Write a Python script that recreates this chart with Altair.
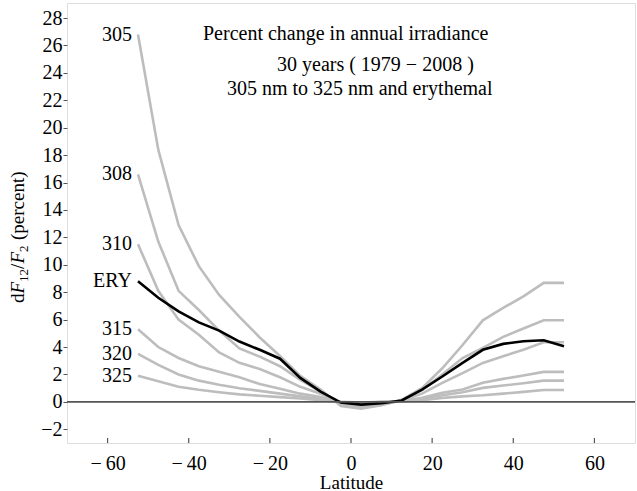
import altair as alt
import pandas as pd

lat = [-52.5, -47.5, -42.5, -37.5, -32.5, -27.5, -22.5, -17.5, -12.5, -7.5, -2.5,
       2.5, 7.5, 12.5, 17.5, 22.5, 27.5, 32.5, 37.5, 42.5, 47.5, 52.5]

s305 = [26.8, 18.4, 12.9, 9.9, 7.8, 6.2, 4.7, 3.35, 1.9, 0.9, -0.3,
        -0.5, -0.25, 0.15, 1.0, 2.45, 4.15, 5.95, 6.85, 7.7, 8.68, 8.68]
s308 = [16.6, 11.7, 8.1, 6.7, 5.2, 3.9, 3.3, 2.6, 1.6, 0.75, -0.2,
        -0.4, -0.2, 0.1, 0.85, 2.0, 3.2, 3.94, 4.74, 5.35, 5.95, 5.95]
s310 = [11.5, 8.1, 6.0, 4.9, 3.6, 2.85, 2.4, 1.8, 1.1, 0.6, -0.15,
        -0.3, -0.15, 0.1, 0.6, 1.39, 2.1, 2.84, 3.33, 3.8, 4.35, 4.35]
sERY = [8.8, 7.6, 6.6, 5.8, 5.2, 4.4, 3.8, 3.15, 1.75, 0.75, -0.05,
        -0.2, -0.1, 0.1, 0.9, 1.85, 2.85, 3.8, 4.23, 4.42, 4.5, 4.06]
s315 = [5.3, 4.0, 3.2, 2.6, 2.2, 1.8, 1.3, 0.95, 0.6, 0.35, -0.05,
        -0.15, -0.05, 0.05, 0.3, 0.66, 0.9, 1.39, 1.68, 1.92, 2.19, 2.19]
s320 = [3.5, 2.7, 2.0, 1.55, 1.25, 1.0, 0.8, 0.6, 0.4, 0.2, 0.0,
        -0.1, 0.0, 0.05, 0.2, 0.48, 0.7, 1.02, 1.19, 1.36, 1.55, 1.55]
s325 = [1.9, 1.5, 1.1, 0.88, 0.7, 0.55, 0.45, 0.35, 0.25, 0.12, 0.0,
        -0.05, 0.0, 0.05, 0.12, 0.29, 0.4, 0.48, 0.6, 0.73, 0.87, 0.87]

series_names = ["305", "308", "310", "ERY", "315", "320", "325"]
series_values = [s305, s308, s310, sERY, s315, s320, s325]

x_ticks = [-60, -40, -20, 0, 20, 40, 60]
y_ticks = list(range(-2, 29, 2))

title_lines = ["Percent change in annual irradiance",
               "30 years ( 1979 − 2008 )",
               "305 nm to 325 nm and erythemal"]

rows = []
for name, vals in zip(series_names, series_values):
    for la, v in zip(lat, vals):
        rows.append({"lat": la, "value": v, "series": name})
df = pd.DataFrame(rows)
label_df = pd.DataFrame({"lat": [lat[0]] * len(series_names),
                         "value": [v[0] for v in series_values],
                         "series": series_names})

W, H = 568, 440
FONT = "Liberation Serif"

xs = alt.Scale(domain=[-70, 70], nice=False, zero=False)
ys = alt.Scale(domain=[-3, 29.1], nice=False, zero=False)

xaxis = alt.Axis(values=x_ticks, title="Latitude", grid=False, domain=False,
                 ticks=False, labelPadding=10, labelFontSize=20,
                 labelFont=FONT, titleFont=FONT, titleFontSize=19,
                 titleFontWeight="normal", titlePadding=0,
                 labelColor="black", titleColor="black", labelOverlap=False,
                 labelExpr="datum.value < 0 ? '\u2212\u2009' + abs(datum.value) : datum.label")
yaxis = alt.Axis(values=y_ticks, title=None, grid=False, domain=False,
                 ticks=True, tickSize=4, tickColor="#555", labelPadding=1,
                 labelFontSize=20, labelFont=FONT, labelColor="black",
                 labelOverlap=False, labelBound=False)

X = alt.X("lat:Q", scale=xs, axis=xaxis)
Y = alt.Y("value:Q", scale=ys, axis=yaxis)

base = alt.Chart(df)

gray = base.transform_filter(alt.datum.series != "ERY").mark_line(
    color="#bdbdbd", strokeWidth=2.6).encode(x=X, y=Y, detail="series:N")

ery = base.transform_filter(alt.datum.series == "ERY").mark_line(
    color="black", strokeWidth=2.6).encode(x=X, y=Y)

zero = alt.Chart(pd.DataFrame({"value": [0]})).mark_rule(color="#555", strokeWidth=1.6).encode(
    y=Y, x=alt.value(0), x2=alt.value(W))

xtick = alt.Chart(pd.DataFrame({"lat": x_ticks})).mark_rule(color="#555", strokeWidth=1.2).encode(
    x=X, y=alt.value(H - 5), y2=alt.value(H))

labels = alt.Chart(label_df).mark_text(align="right", baseline="middle", dx=-6,
                                       font=FONT, fontSize=20, color="black").encode(
    x=X, y=Y, text="series:N")

title_df = pd.DataFrame({"t": title_lines, "px": [136, 210, 160], "py": [31, 62, 86]})
title = alt.Chart(title_df).mark_text(align="left", baseline="middle", font=FONT,
                                      fontSize=20, color="black").encode(
    x=alt.X("px:Q", scale=None), y=alt.Y("py:Q", scale=None), text="t:N")

# y-axis title pieces, rotated
pieces = [("d", "normal", 19, 0), ("F", "italic", 19, 0), ("12", "normal", 13, 4),
          ("/", "normal", 19, 0), ("F", "italic", 19, 0), ("2", "normal", 13, 4),
          ("(percent)", "normal", 19, 0)]
widths = [9.5, 11.6, 13.0, 5.3, 11.6, 12.0, 69.0]
ytitle_layers = []
y0 = 303 - 3
for (txt, style, fs, dxo), w in zip(pieces, widths):
    ytitle_layers.append(
        alt.Chart(pd.DataFrame({"t": [txt]})).mark_text(
            angle=270, align="left", baseline="alphabetic", font=FONT,
            fontSize=fs, fontStyle=style, color="black").encode(
            x=alt.value(24 - 67 + dxo), y=alt.value(y0), text="t:N"))
    y0 -= w

chart = alt.layer(gray, ery, zero, xtick, labels, title, *ytitle_layers).properties(
    width=W, height=H,
    autosize=alt.AutoSizeParams(type="none"),
    padding={"left": 67, "top": 3, "right": 2, "bottom": 48},
).configure_view(stroke="#555", strokeWidth=1.6).configure(background="white")

chart.save("out.html", embed_options={"renderer": "svg", "actions": False})
